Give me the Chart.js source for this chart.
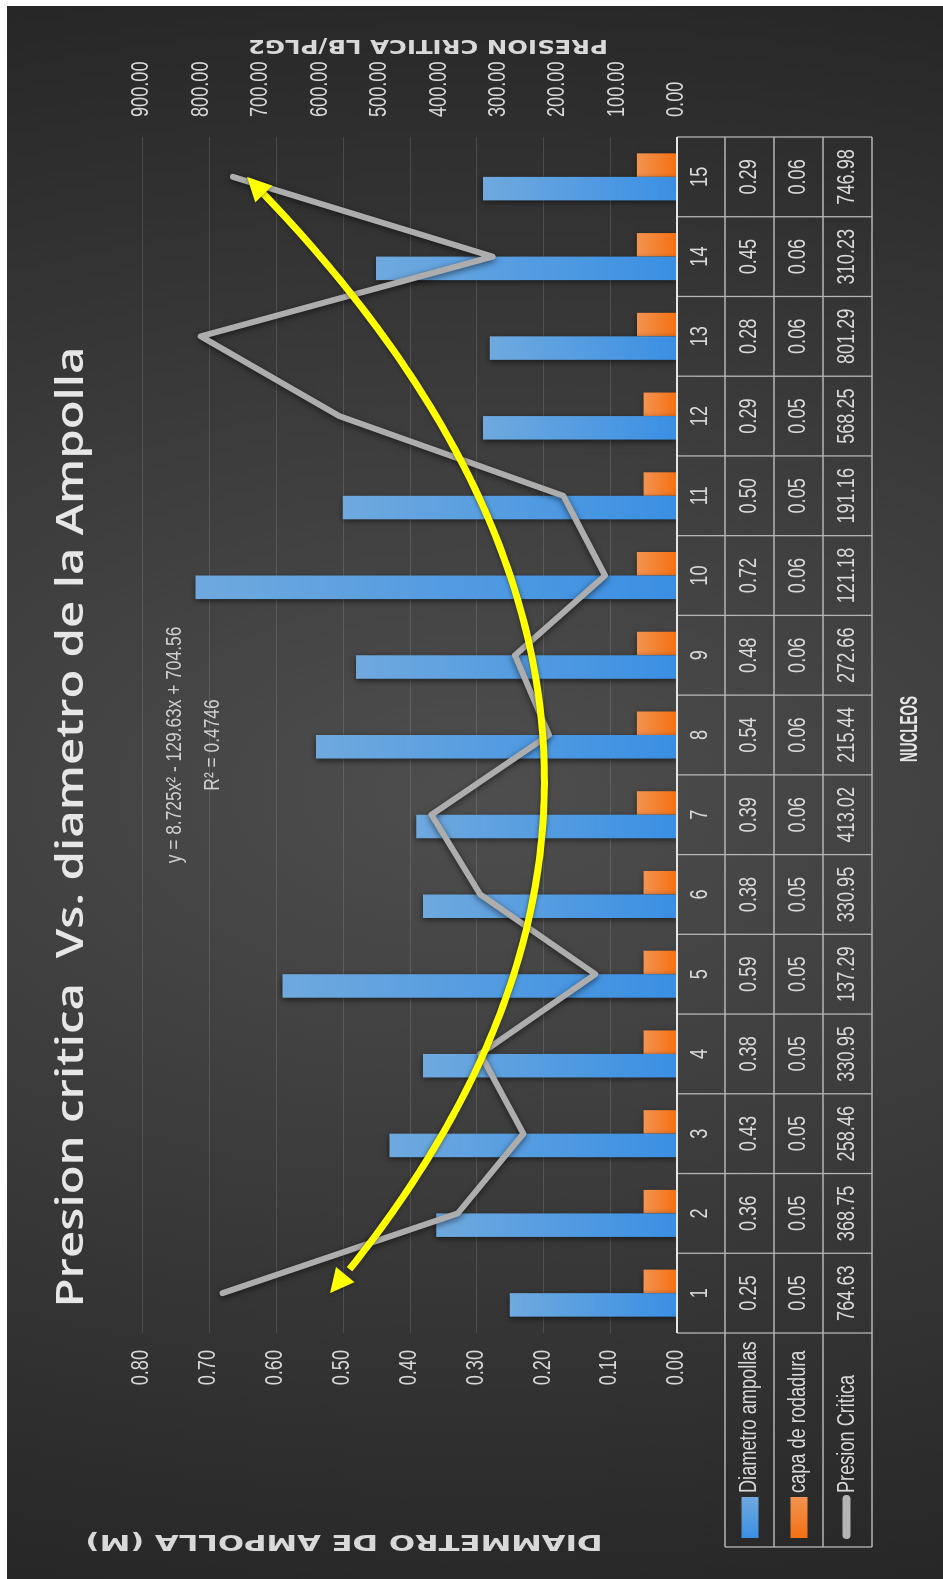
<!DOCTYPE html>
<html>
<head>
<meta charset="utf-8">
<title>Presion critica Vs. diametro de la Ampolla</title>
<script src="https://cdn.jsdelivr.net/npm/chart.js"></script>
<style>
    html, body { margin: 0; padding: 0; background: #fff; overflow: hidden; }
    #frame { position: absolute; left: 7px; top: 6px; width: 936px; height: 1573px; overflow: hidden; }
    /* the chart is laid out landscape and turned a quarter turn to the left */
    #chart { position: absolute; left: 0; top: 0; transform-origin: 0 0; transform: translate(0, 1573px) rotate(-90deg); }
</style>
</head>
<body>
<div id="frame"><canvas id="chart" width="1573" height="936"></canvas></div>
<script>
const nucleos = ['1', '2', '3', '4', '5', '6', '7', '8', '9', '10', '11', '12', '13', '14', '15'];
const diametroAmpollas = [0.25, 0.36, 0.43, 0.38, 0.59, 0.38, 0.39, 0.54, 0.48, 0.72, 0.50, 0.29, 0.28, 0.45, 0.29];
const capaRodadura = [0.05, 0.05, 0.05, 0.05, 0.05, 0.05, 0.06, 0.06, 0.06, 0.06, 0.05, 0.05, 0.06, 0.06, 0.06];
const presionCritica = [764.63, 368.75, 258.46, 330.95, 137.29, 330.95, 413.02, 215.44, 272.66, 121.18, 191.16, 568.25, 801.29, 310.23, 746.98];

const diametroTicks = [0, 0.1, 0.2, 0.3, 0.4, 0.5, 0.6, 0.7, 0.8];
const presionTicks = [0, 100, 200, 300, 400, 500, 600, 700, 800, 900];

// polynomial trendline of Presion Critica: y = a x² + b x + c
const tendencia = [8.725, -129.63, 704.56];
const tendenciaR2 = 0.4746;

const W = 1573;
const H = 936;
const FONT = '"Liberation Sans", Arial, sans-serif';
const TEXT = '#d9d9d9';

// condensed text: horizontal squeeze, or stretched to a given width
function label(ctx, text, x, y, o) {
    ctx.save();
    ctx.font = `${o.weight || 'normal'} ${o.size}px ${o.family || FONT}`;
    ctx.fillStyle = o.color || TEXT;
    ctx.textBaseline = 'middle';
    ctx.textAlign = 'left';
    const w = ctx.measureText(text).width;
    const sx = o.width ? o.width / w : (o.sx || 0.79);
    ctx.translate(x, y);
    if (o.rot) ctx.rotate(o.rot);
    ctx.scale(sx, 1);
    const a = o.align || 'center';
    const dx = a === 'center' ? -w / 2 : a === 'right' ? -w : 0;
    ctx.fillText(text, dx, 0);
    ctx.restore();
}

function barFill(base, tip) {
    return (c) => {
        const chart = c.chart;
        if (!chart.chartArea || c.type !== 'data') return base;
        const y = chart.scales.y;
        const g = chart.ctx.createLinearGradient(0, y.getPixelForValue(0), 0, y.getPixelForValue(c.raw));
        g.addColorStop(0, base);
        g.addColorStop(1, tip);
        return g;
    };
}

const decor = {
    id: 'decor',
    beforeDraw(chart) {
        const ctx = chart.ctx;
        ctx.save();
        ctx.translate(W / 2, H / 2);
        ctx.scale(1, 1.8);
        const g = ctx.createRadialGradient(0, 0, 0, 0, 0, 820);
        g.addColorStop(0, '#4e4e4e');
        g.addColorStop(1, '#272727');
        ctx.fillStyle = g;
        ctx.fillRect(-W / 2, -H, W, 2 * H);
        ctx.restore();

        // horizontal gridlines of the diameter axis
        const { left, right } = chart.chartArea;
        const y = chart.scales.y;
        ctx.save();
        ctx.strokeStyle = 'rgba(255, 255, 255, 0.13)';
        ctx.lineWidth = 1;
        diametroTicks.forEach((v) => {
            if (v === 0) return;
            const py = Math.round(y.getPixelForValue(v)) + 0.5;
            ctx.beginPath();
            ctx.moveTo(left, py);
            ctx.lineTo(right, py);
            ctx.stroke();
        });
        ctx.restore();
    },
    beforeDatasetDraw(chart) {
        const ctx = chart.ctx;
        ctx.save();
        ctx.shadowColor = 'rgba(0, 0, 0, 0.55)';
        ctx.shadowBlur = 6;
        ctx.shadowOffsetX = -2;
    },
    afterDatasetDraw(chart) {
        chart.ctx.restore();
    },
    afterDatasetsDraw(chart) {
        // yellow trendline with an arrowhead at each end
        const ctx = chart.ctx;
        const x = chart.scales.x;
        const y2 = chart.scales.y2;
        const [a, b, c] = tendencia;
        const pts = [];
        for (let i = 0; i <= 140; i++) {
            const t = 1 + i / 10;
            pts.push([x.getPixelForValue(t - 1), y2.getPixelForValue(a * t * t + b * t + c)]);
        }
        const len = 24;
        const half = 12;
        const dist = (p, q) => Math.hypot(p[0] - q[0], p[1] - q[1]);
        let s = 0;
        while (dist(pts[s], pts[0]) < len - 3) s++;
        let e = pts.length - 1;
        while (dist(pts[e], pts[pts.length - 1]) < len - 3) e--;

        ctx.save();
        ctx.shadowColor = 'rgba(0, 0, 0, 0.5)';
        ctx.shadowBlur = 4;
        ctx.strokeStyle = '#ffff00';
        ctx.fillStyle = '#ffff00';
        ctx.lineWidth = 7;
        ctx.lineJoin = 'round';
        ctx.beginPath();
        ctx.moveTo(pts[s][0], pts[s][1]);
        for (let i = s + 1; i <= e; i++) ctx.lineTo(pts[i][0], pts[i][1]);
        ctx.stroke();

        const arrow = (tip, from) => {
            const d = dist(tip, from);
            const ux = (tip[0] - from[0]) / d;
            const uy = (tip[1] - from[1]) / d;
            const bx = tip[0] - ux * len;
            const by = tip[1] - uy * len;
            ctx.beginPath();
            ctx.moveTo(tip[0], tip[1]);
            ctx.lineTo(bx - uy * half, by + ux * half);
            ctx.lineTo(bx + uy * half, by - ux * half);
            ctx.closePath();
            ctx.fill();
        };
        arrow(pts[0], pts[s]);
        arrow(pts[pts.length - 1], pts[e]);
        ctx.restore();
    },
    afterDraw(chart) {
        const ctx = chart.ctx;
        const x = chart.scales.x;
        const y = chart.scales.y;
        const y2 = chart.scales.y2;
        const area = chart.chartArea;

        // tick labels of both value axes
        diametroTicks.forEach((v) => {
            label(ctx, v.toFixed(2), area.left - 17, y.getPixelForValue(v), { size: 23, align: 'right' });
        });
        presionTicks.forEach((v) => {
            label(ctx, v.toFixed(2), area.right + 20, y2.getPixelForValue(v), { size: 23, align: 'left' });
        });

        // data table under the plot
        const rows = [area.bottom, 718, 767, 816, 865];
        const keyLeft = 32;
        ctx.save();
        ctx.strokeStyle = '#b5b5b5';
        ctx.lineWidth = 1.3;
        ctx.beginPath();
        rows.forEach((ry, i) => {
            if (i === 0) return;
            ctx.moveTo(keyLeft, ry);
            ctx.lineTo(area.right, ry);
        });
        for (let k = 0; k <= nucleos.length; k++) {
            const px = x.getPixelForValue(k - 0.5);
            ctx.moveTo(px, rows[0]);
            ctx.lineTo(px, rows[4]);
        }
        ctx.moveTo(keyLeft, rows[1]);
        ctx.lineTo(keyLeft, rows[4]);
        ctx.stroke();
        ctx.strokeStyle = '#e6e6e6';
        ctx.lineWidth = 2;
        ctx.beginPath();
        ctx.moveTo(area.left, rows[0]);
        ctx.lineTo(area.right, rows[0]);
        ctx.stroke();
        ctx.restore();

        const mid = (i) => (rows[i] + rows[i + 1]) / 2;
        nucleos.forEach((n, i) => {
            const px = x.getPixelForValue(i);
            label(ctx, n, px, mid(0), { size: 23 });
            label(ctx, diametroAmpollas[i].toFixed(2), px, mid(1), { size: 23 });
            label(ctx, capaRodadura[i].toFixed(2), px, mid(2), { size: 23 });
            label(ctx, presionCritica[i].toFixed(2), px, mid(3), { size: 23 });
        });

        // legend keys inside the table
        ctx.save();
        let g = ctx.createLinearGradient(41, 0, 82, 0);
        g.addColorStop(0, '#3a8fe3');
        g.addColorStop(1, '#6fa9de');
        ctx.fillStyle = g;
        ctx.fillRect(41, mid(1) - 8, 41, 17);
        g = ctx.createLinearGradient(41, 0, 82, 0);
        g.addColorStop(0, '#f47012');
        g.addColorStop(1, '#f39350');
        ctx.fillStyle = g;
        ctx.fillRect(41, mid(2) - 8, 41, 17);
        ctx.strokeStyle = '#b4b4b4';
        ctx.lineWidth = 8;
        ctx.lineCap = 'round';
        ctx.beginPath();
        ctx.moveTo(44, mid(3) - 1);
        ctx.lineTo(80, mid(3) - 1);
        ctx.stroke();
        ctx.restore();
        chart.data.datasets.forEach((ds) => {
            const r = ds.label === 'Diametro ampollas' ? 1 : ds.label === 'capa de rodadura' ? 2 : 3;
            label(ctx, ds.label, 86, mid(r), { size: 23, align: 'left' });
        });

        // titles
        label(ctx, 'Presion critica  Vs. diametro de la Ampolla', 752, 65,
            { size: 37, weight: '600', family: '"Open Sans", sans-serif', width: 961, color: '#e6e6e6' });
        label(ctx, 'DIAMMETRO DE AMPOLLA (M)', 38, 337,
            { size: 22, weight: 'bold', family: '"DejaVu Sans", sans-serif', width: 517, rot: -Math.PI / 2 });
        label(ctx, 'PRESION CRITICA LB/PLG2', 1534, 421,
            { size: 19, weight: 'bold', family: '"DejaVu Sans", sans-serif', width: 360, rot: -Math.PI / 2 });
        label(ctx, 'NUCLEOS', 850, 904,
            { size: 23, weight: 'bold', width: 66, color: '#e6e6e6' });

        // trendline equation
        label(ctx, `y = ${tendencia[0]}x² - ${Math.abs(tendencia[1])}x + ${tendencia[2]}`, 834, 168,
            { size: 22, color: '#cfcfcf' });
        label(ctx, `R² = ${tendenciaR2}`, 834, 206, { size: 22, color: '#cfcfcf' });
    },
};

const ctx = document.getElementById('chart').getContext('2d');

const data = {
    labels: nucleos,
    datasets: [
        {
            type: 'line',
            label: 'Presion Critica',
            data: presionCritica,
            yAxisID: 'y2',
            borderColor: '#adadad',
            borderWidth: 6,
            borderCapStyle: 'round',
            borderJoinStyle: 'round',
            pointRadius: 0,
            tension: 0,
            order: 0,
        },
        {
            label: 'Diametro ampollas',
            data: diametroAmpollas,
            yAxisID: 'y',
            backgroundColor: barFill('#3a8fe3', '#6fa9de'),
            borderWidth: 0,
            categoryPercentage: 0.59,
            barPercentage: 1,
            order: 1,
        },
        {
            label: 'capa de rodadura',
            data: capaRodadura,
            yAxisID: 'y',
            backgroundColor: barFill('#f47012', '#f39350'),
            borderWidth: 0,
            categoryPercentage: 0.59,
            barPercentage: 1,
            order: 2,
        },
    ],
};

const config = {
    type: 'bar',
    data: data,
    options: {
        responsive: false,
        animation: false,
        devicePixelRatio: 1,
        layout: {
            padding: { left: 246, right: 131, top: 135, bottom: 266 },
        },
        plugins: {
            legend: { display: false },
            tooltip: { enabled: false },
        },
        scales: {
            x: { display: false, offset: true },
            y: { display: false, min: 0, max: 0.8 },
            y2: { display: false, position: 'right', min: 0, max: 900 },
        },
    },
    plugins: [decor],
};

const myChart = new Chart(ctx, config);
</script>
</body>
</html>
